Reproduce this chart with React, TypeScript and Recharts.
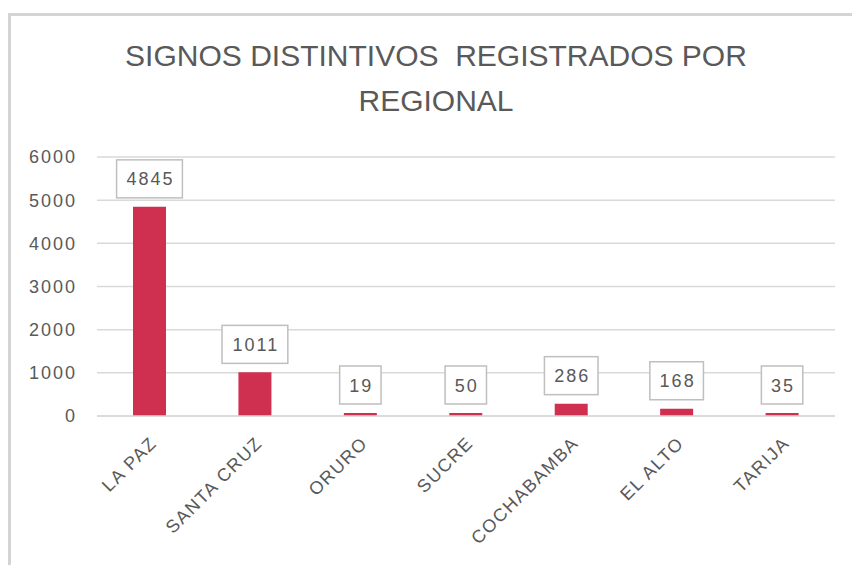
import { Bar, BarChart, CartesianGrid, LabelList, XAxis, YAxis } from 'recharts'

const REGIONS = ['LA PAZ', 'SANTA CRUZ', 'ORURO', 'SUCRE', 'COCHABAMBA', 'EL ALTO', 'TARIJA']
const REGISTROS = [4845, 1011, 19, 50, 286, 168, 35]
const Y_TICKS = [0, 1000, 2000, 3000, 4000, 5000, 6000]
const TITLE_LINES = ['SIGNOS DISTINTIVOS  REGISTRADOS POR', 'REGIONAL']

const data = REGIONS.map((region, i) => ({ region, value: REGISTROS[i] }))

const FONT = '"Liberation Sans", Arial, sans-serif'
const TEXT = '#595959'
const GRID = '#d9d9d9'
const BAR = '#d0304f'

// boxed value label sitting above each bar
function ValueBox(props: any) {
  const { x, y, width, value } = props
  const cx = x + width / 2
  const w = String(value).length * 12.2 + 17
  const bottom = y - 9
  return (
    <g>
      <rect x={cx - w / 2} y={bottom - 38} width={w} height={38} fill="#fff" stroke="#bfbfbf" strokeWidth={1.5} />
      <text
        x={cx + 1}
        y={bottom - 12.5}
        textAnchor="middle"
        fill={TEXT}
        fontSize={18}
        letterSpacing={2}
        fontFamily={FONT}
      >
        {value}
      </text>
    </g>
  )
}

function RegionTick({ x, y, payload }: any) {
  return (
    <g transform={`translate(${x - 1},${y + 19})`}>
      <text textAnchor="end" transform="rotate(-45)" dy={13} fill={TEXT} fontSize={18} letterSpacing={1.5} fontFamily={FONT}>
        {payload.value}
      </text>
    </g>
  )
}

export default function App() {
  return (
    <div style={{ position: 'absolute', left: 0, top: 0, width: 852, height: 565, overflow: 'hidden', background: '#fff' }}>
      <div
        style={{
          position: 'absolute',
          left: 8,
          top: 13,
          width: 844,
          height: 552,
          boxSizing: 'border-box',
          borderTop: '3px solid #d4d4d4',
          borderLeft: '3px solid #d4d4d4',
        }}
      />
      <div
        style={{
          position: 'absolute',
          left: 20,
          top: 33,
          width: 832,
          textAlign: 'center',
          fontFamily: FONT,
          fontSize: 30,
          lineHeight: '45px',
          color: TEXT,
          whiteSpace: 'pre',
        }}
      >
        {TITLE_LINES.join('\n')}
      </div>
      <div style={{ position: 'absolute', left: 0, top: 0 }}>
        <BarChart width={852} height={565} data={data} margin={{ top: 157, right: 17, bottom: 29, left: 0 }}>
          <CartesianGrid vertical={false} stroke={GRID} strokeWidth={1.5} />
          <XAxis
            dataKey="region"
            interval={0}
            height={120}
            tickLine={false}
            tickSize={0}
            tickMargin={0}
            axisLine={{ stroke: GRID, strokeWidth: 1.5 }}
            tick={<RegionTick />}
          />
          <YAxis
            width={97}
            domain={[0, 6000]}
            ticks={Y_TICKS}
            axisLine={false}
            tickLine={false}
            tickSize={0}
            tickMargin={20}
            tick={{ fill: TEXT, fontSize: 18, letterSpacing: 2, fontFamily: FONT }}
          />
          <Bar dataKey="value" fill={BAR} barSize={33} minPointSize={3} isAnimationActive={false}>
            <LabelList dataKey="value" content={<ValueBox />} />
          </Bar>
        </BarChart>
      </div>
    </div>
  )
}
